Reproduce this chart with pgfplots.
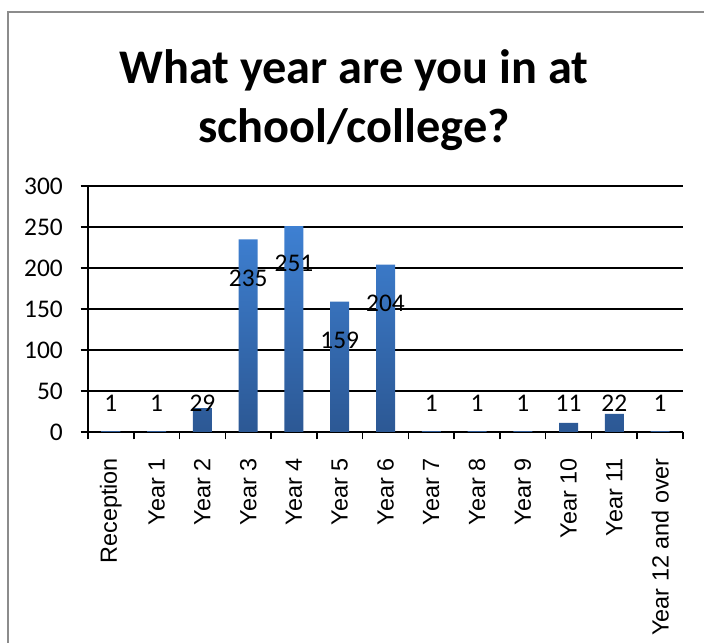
\documentclass[border=0pt]{standalone}
\usepackage{pgfplots}
\pgfplotsset{compat=1.18}
\usepackage{fontspec}
\setmainfont{Carlito}
\newfontfamily\arialfont{Liberation Sans}
\definecolor{bartop}{RGB}{62,128,210}
\definecolor{barbot}{RGB}{44,88,148}
\definecolor{frame}{RGB}{140,140,140}

\pgfplotstableread{
x lab ypos
0 1 35.4
1 1 35.4
2 29 35.4
3 235 187.8
4 251 205.1
5 159 112.2
6 204 156.9
7 1 35.4
8 1 35.4
9 1 35.4
10 11 35.4
11 22 35.4
12 1 35.4
}\labels

\begin{document}
\begin{tikzpicture}[x=1bp,y=1bp]
\useasboundingbox (0,0) rectangle (704,643);
\draw[frame, line width=2bp] (8,0) -- (8,631) -- (704,631);
\node[font=\fontsize{48.5}{59}\selectfont\bfseries, align=center] at (354,543)
  {What year are you in at\\school/college?};
\begin{axis}[
  at={(88bp,211bp)}, anchor=south west,
  scale only axis, width=595bp, height=246bp,
  xmin=-0.5, xmax=12.5, ymin=0, ymax=300,
  axis x line*=bottom, axis y line*=left,
  axis line style={black, line width=1.5bp, -},
  ytick={0,50,...,300},
  minor ytick={0,50,...,300},
  xtick={-1,0,...,13},
  xticklabels={,Reception,Year 1,Year 2,Year 3,Year 4,Year 5,Year 6,Year 7,Year 8,Year 9,Year 10,Year 11,Year 12 and over},
  minor x tick num=1,
  tick align=outside,
  major tick length=0pt, minor tick length=7.5bp,
  tick style={black, line width=1.5bp},
  ymajorgrids, grid style={black, line width=1.5bp},
  /pgf/number format/assume math mode=true,
  yticklabel style={font=\fontsize{25.5}{30}\selectfont, anchor=east, inner sep=0pt, xshift=-25bp},
  xticklabel style={font=\arialfont\fontsize{23.5}{28}\selectfont, rotate=90, anchor=east, inner sep=0pt, xshift=-26bp},
  clip=false,
]
\addplot[ybar, bar width=19bp, draw=none, top color=bartop, bottom color=barbot]
  coordinates {(0,1)(1,1)(2,29)(3,235)(4,251)(5,159)(6,204)(7,1)(8,1)(9,1)(10,11)(11,22)(12,1)};
\addplot[only marks, mark=none, nodes near coords, point meta=explicit symbolic,
  nodes near coords style={font=\fontsize{25.5}{30}\selectfont, anchor=center, inner sep=0pt}]
  table[x=x, y=ypos, meta=lab] {\labels};
\end{axis}
\end{tikzpicture}
\end{document}
